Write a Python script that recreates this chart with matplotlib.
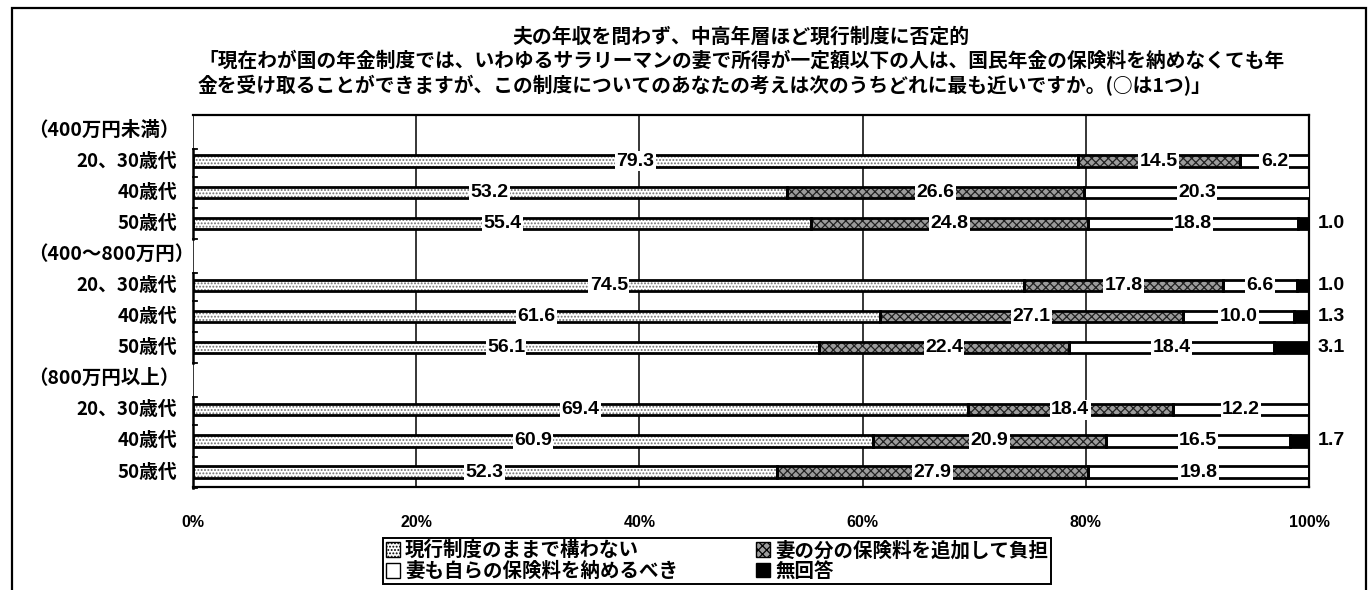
import matplotlib
matplotlib.use('Agg')
import matplotlib.pyplot as plt
from matplotlib.patches import Patch, Rectangle
from matplotlib import font_manager

plt.rcParams['font.family'] = ['Noto Sans CJK JP', 'DejaVu Sans']
plt.rcParams['hatch.linewidth'] = 0.9

#%% data
groups = ['（400万円未満）', '（400～800万円）', '（800万円以上）']
ages = ['20、30歳代', '40歳代', '50歳代']
genkou = [79.3, 53.2, 55.4, 74.5, 61.6, 56.1, 69.4, 60.9, 52.3]      # 現行制度のままで構わない
tsuika = [14.5, 26.6, 24.8, 17.8, 27.1, 22.4, 18.4, 20.9, 27.9]      # 妻の分の保険料を追加して負担
osameru = [6.2, 20.3, 18.8, 6.6, 10.0, 18.4, 12.2, 16.5, 19.8]       # 妻も自らの保険料を納めるべき
mukaitou = [0.0, 0.0, 1.0, 1.0, 1.3, 3.1, 0.0, 1.7, 0.0]             # 無回答
series_names = ['現行制度のままで構わない', '妻の分の保険料を追加して負担',
                '妻も自らの保険料を納めるべき', '無回答']
xticks = [0, 20, 40, 60, 80, 100]
title1 = '夫の年収を問わず、中高年層ほど現行制度に否定的'
title2 = '「現在わが国の年金制度では、いわゆるサラリーマンの妻で所得が一定額以下の人は、国民年金の保険料を納めなくても年'
title3 = '金を受け取ることができますが、この制度についてのあなたの考えは次のうちどれに最も近いですか。(○は1つ)」'

#%% number font: narrow if there is one
num_font = dict(family='Liberation Sans', fontweight='bold')
try:
    font_manager.findfont(font_manager.FontProperties(family='Liberation Sans Narrow', weight='bold'),
                          fallback_to_default=False)
    num_font = dict(family='Liberation Sans Narrow', fontweight='bold')
    num_size = 15.5
except Exception:
    num_size = 14

styles = [
    dict(face='white', hatch='.....', hcol='#6e6e6e'),
    dict(face='#9c9c9c', hatch='xxxx', hcol='#202020'),
    dict(face='white', hatch=None, hcol='white'),
    dict(face='black', hatch=None, hcol='black'),
]

W, H = 1371, 590
ax_top, ax_bot = 115, 487
fig = plt.figure(figsize=(W / 100, H / 100), dpi=100)
ax = fig.add_axes([193 / W, 1 - ax_bot / H, (1309 - 193) / W, (ax_bot - ax_top) / H])

# slot positions: header row then 3 bars per group
ypos = []
for g in range(len(groups)):
    for a in range(len(ages)):
        ypos.append(4 * g + 1 + a)

series = [genkou, tsuika, osameru, mukaitou]
bh = 0.36
left = [0.0] * len(ypos)
for s, vals in enumerate(series):
    st = styles[s]
    ax.barh(ypos, vals, left=left, height=bh, color=st['face'], hatch=st['hatch'],
            edgecolor=st['hcol'], linewidth=0, zorder=3)
    ax.barh(ypos, vals, left=left, height=bh, fill=False, edgecolor='black',
            linewidth=2.0, zorder=4)
    for i, v in enumerate(vals):
        if v <= 0:
            continue
        if s == 3:
            ax.text(100.8, ypos[i], '%.1f' % v, ha='left', va='center', fontsize=num_size,
                    clip_on=False, zorder=6, **num_font)
        else:
            ax.text(left[i] + v / 2, ypos[i], '%.1f' % v, ha='center', va='center',
                    fontsize=num_size, zorder=6, **num_font,
                    bbox=dict(facecolor='white', edgecolor='none', pad=1.0))
    left = [l + v for l, v in zip(left, vals)]

ax.set_xlim(0, 100)
ax.set_ylim(11.48, -0.48)
ax.set_xticks(xticks)
ax.set_xticklabels(['%d%%' % t for t in xticks], fontsize=num_size - 2.5, **num_font)
ax.tick_params(axis='x', length=0, pad=20)
ax.grid(True, axis='x', color='black', lw=1.1, zorder=1)
ax.set_yticks([])
ax.spines['left'].set_visible(False)
for sp in ['top', 'right', 'bottom']:
    ax.spines[sp].set_linewidth(1.6)

# left axis drawn per group, with small ticks between the bars
for g in range(len(groups)):
    y0, y1 = 4 * g + 0.6, 4 * g + 3.5
    ax.plot([0, 0], [y0, y1], color='black', lw=1.8, clip_on=False, zorder=5)
    for yt in [y0, 4 * g + 1.5, 4 * g + 2.5, y1]:
        ax.plot([0, 0.35], [yt, yt], color='black', lw=1.3, clip_on=False, zorder=5)

# row labels
for g, gname in enumerate(groups):
    yy = ax.transData.transform((0, 4 * g))[1] / H
    fig.text(28 / W, yy, gname, ha='left', va='center', fontsize=14, fontweight='bold')
    for a, age in enumerate(ages):
        yy = ax.transData.transform((0, 4 * g + 1 + a))[1] / H
        fig.text(177 / W, yy, age, ha='right', va='center', fontsize=13.5, fontweight='bold')

# titles
fig.text(741 / W, 1 - 36 / H, title1, ha='center', va='center', fontsize=14.3, fontweight='bold')
fig.text(198 / W, 1 - 61 / H, title2, ha='left', va='center', fontsize=14.2, fontweight='bold')
fig.text(198 / W, 1 - 86 / H, title3, ha='left', va='center', fontsize=14.2, fontweight='bold')

# legend
handles = []
for s in range(4):
    st = styles[s]
    handles.append(Patch(facecolor=st['face'], hatch=st['hatch'], edgecolor='black',
                         linewidth=1.0, label=series_names[s]))
order = [0, 2, 1, 3]
leg = fig.legend([handles[i] for i in order], [series_names[i] for i in order],
                 loc='center', bbox_to_anchor=(717 / W, 1 - 561 / H), ncol=2,
                 fontsize=14, fancybox=False, edgecolor='black', framealpha=1,
                 handlelength=0.75, handleheight=0.75, handletextpad=0.25,
                 columnspacing=4.0, labelspacing=0.1, borderpad=0.15, borderaxespad=0)
leg.get_frame().set_linewidth(1.4)
for t in leg.get_texts():
    t.set_fontweight('bold')

# outer frame
fig.patches.append(Rectangle((12 / W, -0.02), (1366 - 12) / W, 1.02 - 8 / H,
                             transform=fig.transFigure, fill=False,
                             edgecolor='black', linewidth=1.6))

fig.savefig('out.png', dpi=100, facecolor='white')
